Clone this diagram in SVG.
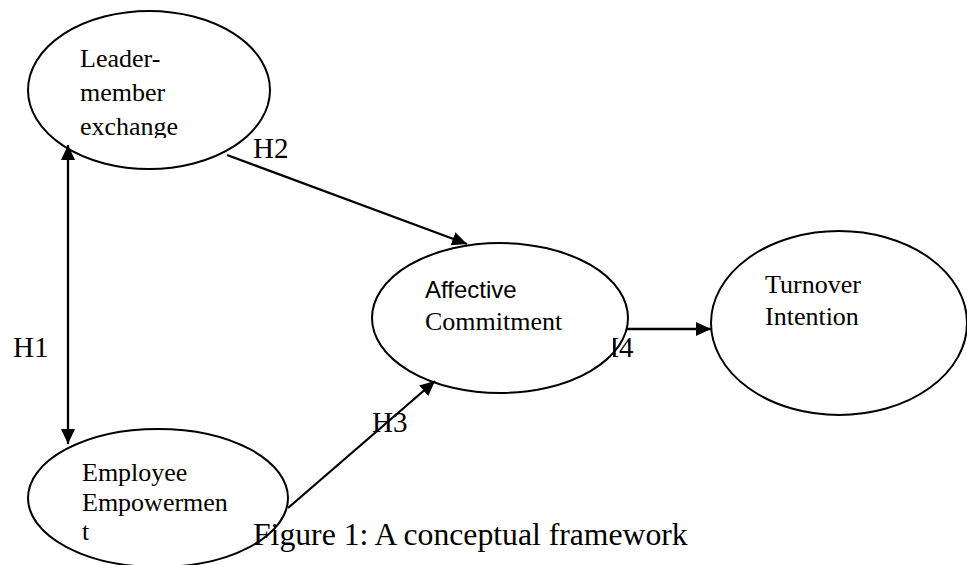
<svg xmlns="http://www.w3.org/2000/svg" width="967" height="565" viewBox="0 0 967 565">
<style>
.node{fill:#fff;stroke:#000;stroke-width:2}
.t{font-family:"Liberation Serif","Times New Roman",serif;font-size:26px;fill:#000}
.s{font-family:"Liberation Sans",Arial,sans-serif;font-size:24px;fill:#000}
.h{font-family:"Liberation Serif","Times New Roman",serif;font-size:29px;fill:#000}
.cap{font-family:"Liberation Serif","Times New Roman",serif;font-size:31.7px;fill:#000}
.edge{stroke:#000;stroke-width:2.3;fill:none}
</style>
<defs>
<marker id="ah" markerUnits="userSpaceOnUse" markerWidth="16" markerHeight="14" refX="15" refY="7" orient="auto-start-reverse">
<path d="M0,0 L15,7 L0,14 Z" fill="#000"/>
</marker>
<clipPath id="clipEx"><rect x="0" y="0" width="300" height="138"/></clipPath>
<clipPath id="clipH4"><rect x="613" y="300" width="60" height="80"/></clipPath>
</defs>
<rect width="967" height="565" fill="#fff"/>
<g id="lmx">
<ellipse class="node" cx="149" cy="90" rx="121" ry="79"/>
<g clip-path="url(#clipEx)">
<text class="t" x="80" y="67">Leader-</text>
<text class="t" x="80" y="101">member</text>
<text class="t" x="80" y="135">exchange</text>
</g>
</g>
<g id="empowerment">
<ellipse class="node" cx="158" cy="498" rx="130" ry="69"/>
<text class="t" x="82" y="481">Employee</text>
<text class="t" x="82" y="511">Empowermen</text>
<text class="t" x="82" y="540">t</text>
</g>
<g id="commitment">
<ellipse class="node" cx="500" cy="318" rx="128" ry="75"/>
<text class="s" x="425" y="298">Affective</text>
<text class="t" x="425" y="330">Commitment</text>
</g>
<g id="turnover">
<ellipse class="node" cx="839" cy="323" rx="128" ry="92"/>
<text class="t" x="765" y="293">Turnover</text>
<text class="t" x="765" y="325">Intention</text>
</g>
<g id="connectors">
<line class="edge" x1="68" y1="145" x2="68" y2="444" marker-start="url(#ah)" marker-end="url(#ah)"/>
<line class="edge" x1="227" y1="155" x2="467" y2="244" marker-end="url(#ah)"/>
<line class="edge" x1="288" y1="508" x2="435" y2="381" marker-end="url(#ah)"/>
<line class="edge" x1="627" y1="329" x2="711" y2="329" marker-end="url(#ah)"/>
</g>
<g id="labels">
<text class="h" x="13" y="357">H1</text>
<text class="h" x="253" y="158">H2</text>
<text class="h" x="372" y="432">H3</text>
<text class="h" x="598" y="357" clip-path="url(#clipH4)">H4</text>
</g>
<text class="cap" x="253" y="545">Figure 1: A conceptual framework</text>
</svg>
